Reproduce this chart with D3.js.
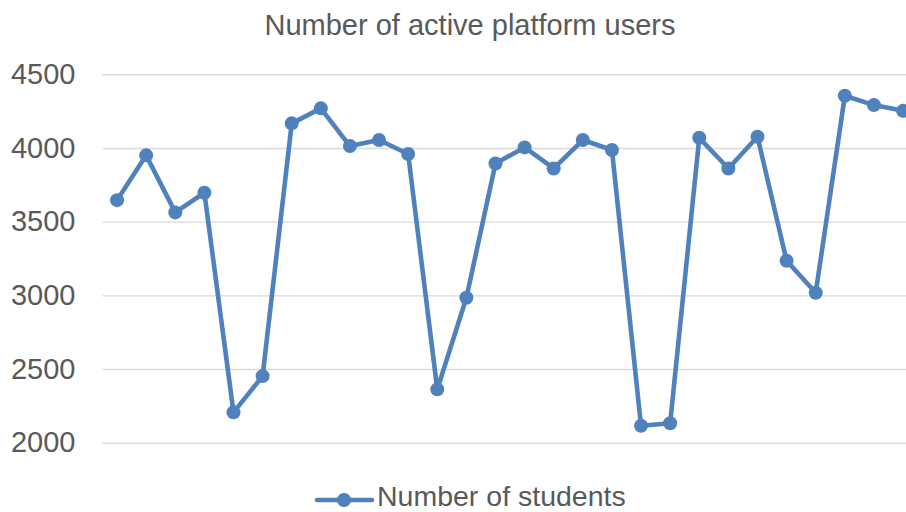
<!DOCTYPE html>
<html>
<head>
<meta charset="utf-8">
<script src="https://cdn.jsdelivr.net/npm/d3@7"></script>
<style>
  html, body { margin: 0; padding: 0; background: #fff; overflow: hidden; }
  svg { display: block; font-family: "Liberation Sans", Arial, sans-serif; }
</style>
</head>
<body>
<svg id="chart" width="906" height="512"></svg>
<script>
const title = "Number of active platform users";
const seriesName = "Number of students";
const categories = d3.range(1, 29).map(String);
const values = [3646, 3950, 3563, 3696, 2206, 2452, 4167, 4269, 4013, 4054,
                3959, 2362, 2984, 3895, 4004, 3861, 4054, 3986, 2115, 2132,
                4069, 3861, 4076, 3235, 3018, 4354, 4291, 4252];
const yTicks = [2000, 2500, 3000, 3500, 4000, 4500];

const svg = d3.select("#chart");
const color = "#4f81bd";
const textColor = "#595959";

const plotLeft = 102.5, plotRight = 917.6, plotTop = 74.3, plotBottom = 442.7;

const x = d3.scaleBand().domain(categories).range([plotLeft, plotRight]);
const y = d3.scaleLinear().domain([2000, 4500]).range([plotBottom, plotTop]);

// gridlines + y tick labels via axis
const yAxis = d3.axisLeft(y).tickValues(yTicks).tickSize(-(plotRight - plotLeft)).tickPadding(27).tickFormat(d3.format("d"));
const gy = svg.append("g").attr("transform", `translate(${plotLeft},0)`).call(yAxis);
gy.select(".domain").remove();
gy.selectAll(".tick line").attr("stroke", "#d9d9d9").attr("stroke-width", 1.4);
gy.selectAll(".tick text").attr("fill", textColor).attr("font-size", 29)
  .attr("font-family", "'Liberation Sans', Arial, sans-serif");

// title
svg.append("text").attr("x", 470).attr("y", 34.5).attr("text-anchor", "middle")
  .attr("fill", textColor).attr("font-size", 29).text(title);

// line
const line = d3.line().x((d, i) => x(categories[i]) + x.bandwidth() / 2).y(d => y(d));
svg.append("path").datum(values).attr("d", line).attr("fill", "none")
  .attr("stroke", color).attr("stroke-width", 4.6).attr("stroke-linejoin", "round");
svg.append("g").selectAll("circle").data(values).join("circle")
  .attr("cx", (d, i) => x(categories[i]) + x.bandwidth() / 2)
  .attr("cy", d => y(d)).attr("r", 7).attr("fill", color);

// legend
const lg = svg.append("g").attr("transform", "translate(0,500)");
lg.append("line").attr("x1", 317).attr("x2", 372).attr("y1", 0).attr("y2", 0)
  .attr("stroke", color).attr("stroke-width", 4.6).attr("stroke-linecap", "round");
lg.append("circle").attr("cx", 344).attr("cy", 0).attr("r", 7).attr("fill", color);
lg.append("text").attr("x", 377).attr("y", 6).attr("fill", textColor)
  .attr("font-size", 28.5).text(seriesName);
</script>
</body>
</html>
